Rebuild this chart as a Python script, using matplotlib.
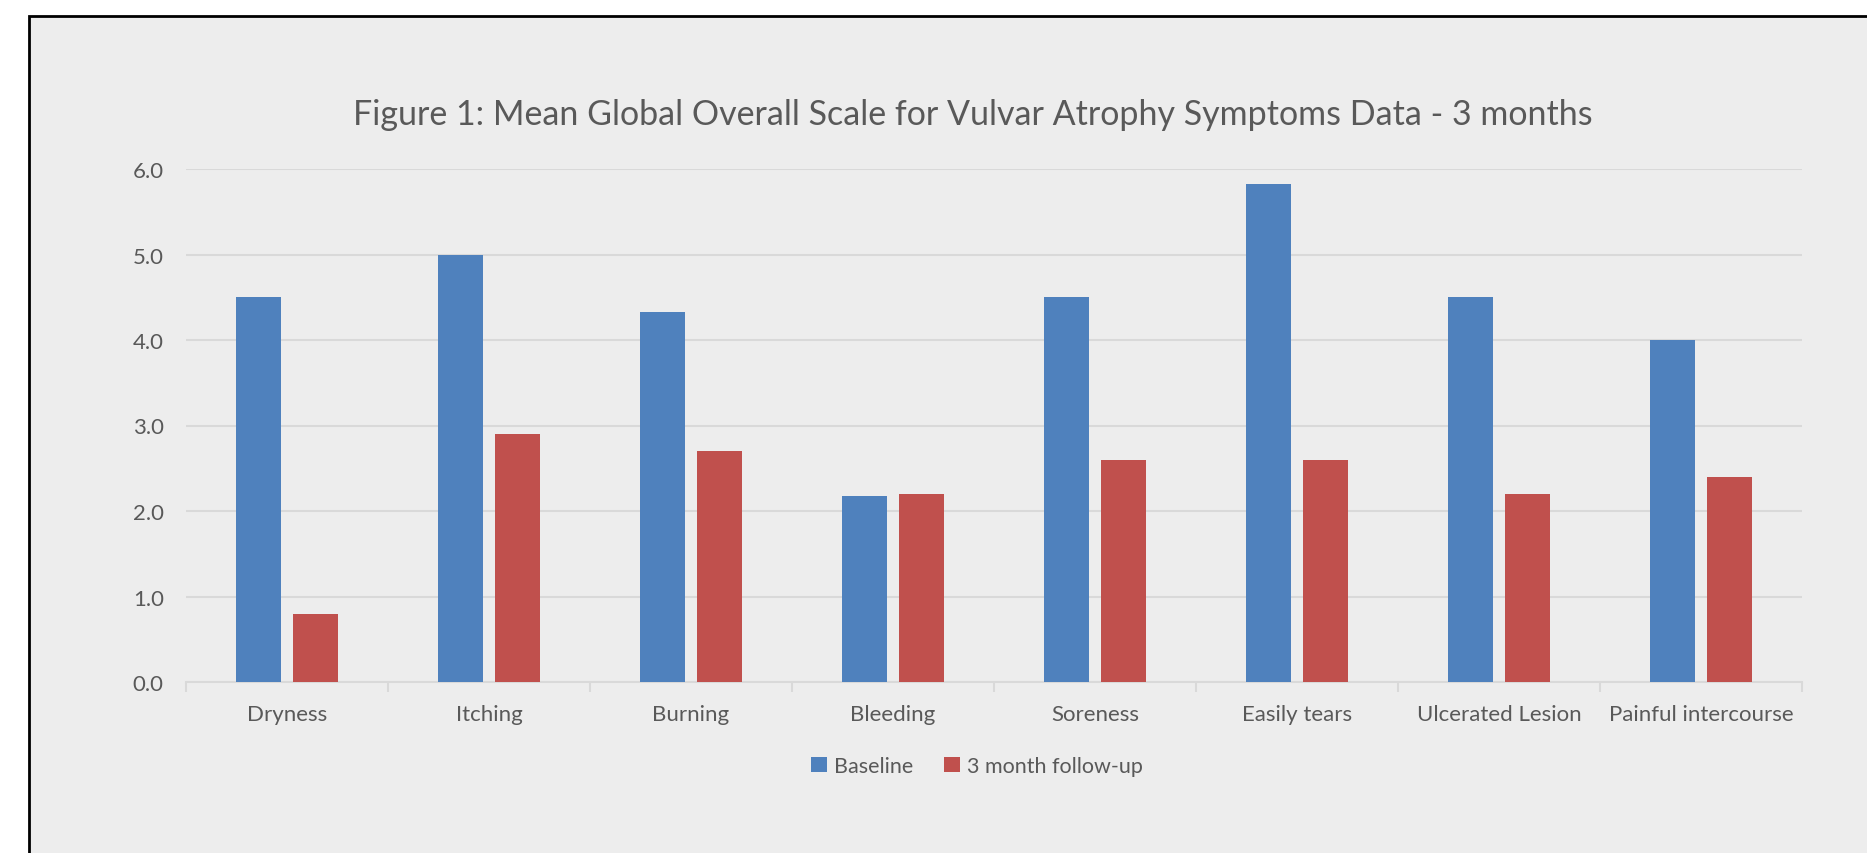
import matplotlib.pyplot as plt
import matplotlib.patches as mpatches
import numpy as np

categories = ['Dryness', 'Itching', 'Burning', 'Bleeding', 'Soreness',
              'Easily tears', 'Ulcerated Lesion', 'Painful intercourse']
baseline = [4.5, 5.0, 4.33, 2.17, 4.5, 5.83, 4.5, 4.0]
followup = [0.8, 2.9, 2.7, 2.2, 2.6, 2.6, 2.2, 2.4]
yticks = [0.0, 1.0, 2.0, 3.0, 4.0, 5.0, 6.0]

W, H = 1867, 854
plt.rcParams['font.family'] = ['Lato', 'DejaVu Sans']
text_col = '#595959'
bg = '#EDEDED'

fig = plt.figure(figsize=(W / 100, H / 100), dpi=100)
fig.patch.set_facecolor('white')

# chart frame that runs off the right and bottom edges
frame = mpatches.Rectangle((29 / W, -0.05), 1.2, 1 - 17 / H + 0.05,
                           transform=fig.transFigure, facecolor=bg,
                           edgecolor='black', linewidth=2, zorder=-1)
fig.patches.append(frame)

ax = fig.add_axes([186 / W, (H - 683) / H, (1802 - 186) / W, (683 - 170) / H])
ax.set_facecolor('none')

x = np.arange(len(categories))
w = 0.223
off = 0.141
ax.bar(x - off, baseline, w, color='#4F81BD', label='Baseline', zorder=3)
ax.bar(x + off, followup, w, color='#C0504D', label='3 month follow-up', zorder=3)

ax.set_xlim(-0.5, len(categories) - 0.5)
ax.set_ylim(0, 6)
ax.set_yticks(yticks)
ax.set_yticklabels([f'{v:.1f}' for v in yticks])
ax.yaxis.grid(True, color='#D9D9D9', linewidth=1.5, zorder=0)
ax.set_axisbelow(True)

for s in ['top', 'right', 'left']:
    ax.spines[s].set_visible(False)
ax.spines['bottom'].set_color('#D9D9D9')
ax.spines['bottom'].set_linewidth(1.5)

ax.set_xticks(np.arange(len(categories) + 1) - 0.5, minor=False)
ax.set_xticklabels([])
ax.tick_params(axis='x', length=7, color='#D9D9D9', width=1.5)
ax.set_xticks(x, minor=True)
ax.set_xticklabels(categories, minor=True)
ax.tick_params(axis='x', which='minor', length=0, pad=16, labelsize=16, labelcolor=text_col)
ax.tick_params(axis='y', length=0, pad=16, labelsize=16, labelcolor=text_col)

fig.text(973 / W, 1 - 115 / H, 'Figure 1: Mean Global Overall Scale for Vulvar Atrophy Symptoms Data - 3 months',
         ha='center', va='center', fontsize=24.5, color=text_col)

fig.legend(loc='center', bbox_to_anchor=(977 / W, 1 - 767 / H), ncol=2, frameon=False,
           fontsize=15.5, labelcolor=text_col, handlelength=0.75, handleheight=0.75,
           handletextpad=0.35, columnspacing=1.4)

fig.savefig('out.png', dpi=100, facecolor='white')
